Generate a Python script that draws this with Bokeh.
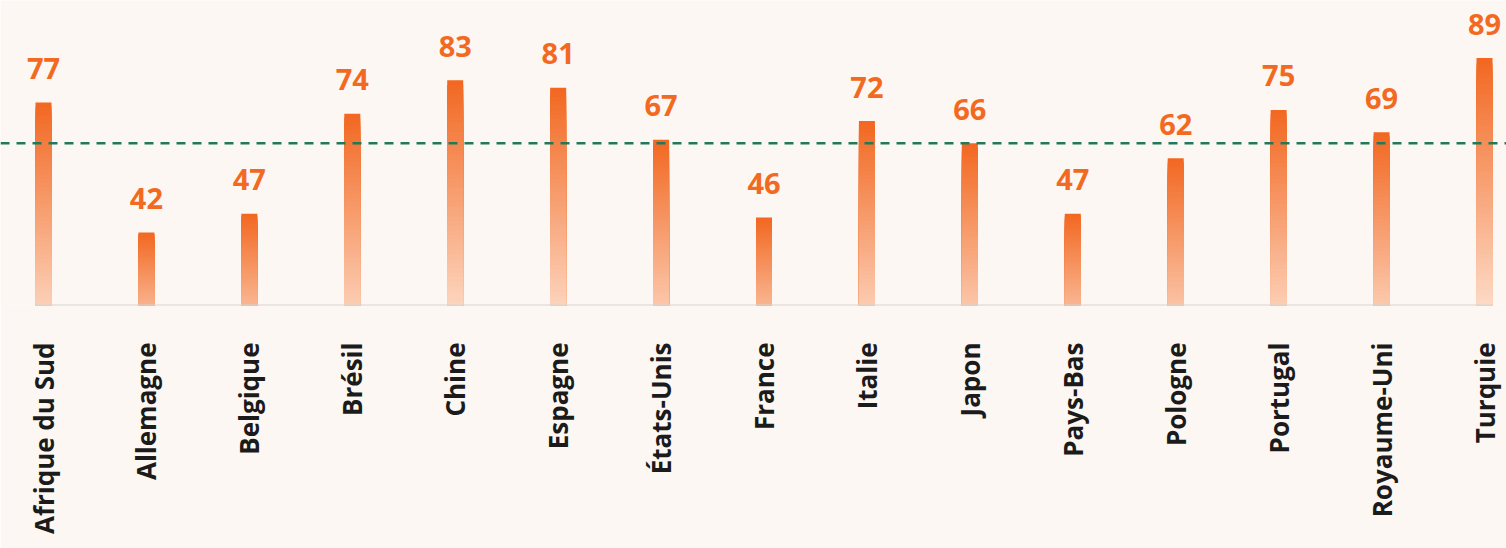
import math
from bokeh.plotting import figure
from bokeh.models import Range1d, FixedTicker, Span, ColumnDataSource
from bokeh.core.properties import value
from bokeh.embed import file_html
from bokeh.resources import INLINE

# ---- data ----
countries = ["Afrique du Sud", "Allemagne", "Belgique", "Brésil", "Chine", "Espagne",
             "États-Unis", "France", "Italie", "Japon", "Pays-Bas", "Pologne",
             "Portugal", "Royaume-Uni", "Turquie"]
values = [77, 42, 47, 74, 83, 81, 67, 46, 72, 66, 47, 62, 75, 69, 89]
average = 66
base_value = 22.3

# ---- style ----
BG = "#fdf7f3"
ORANGE = (242, 104, 34)
PALE = (253, 219, 199)
FONT = "Open Sans"
W, H = 1506, 548
BOTTOM = 243
px_per_x = (1484 - 43) / 14
px_per_y = 3.71
bar_w = 16 / px_per_x

x_start = -43 / px_per_x
x_end = x_start + W / px_per_x
y_end = base_value + (H - BOTTOM) / px_per_y

p = figure(width=W, height=H, output_backend="svg", toolbar_location=None,
           x_range=Range1d(x_start, x_end), y_range=Range1d(base_value, y_end),
           y_axis_location=None, min_border_left=0, min_border_right=0,
           min_border_top=0, min_border_bottom=BOTTOM)
p.background_fill_color = BG
p.border_fill_color = BG
p.outline_line_color = None
p.xgrid.visible = False
p.ygrid.visible = False

idx = list(range(len(countries)))
vmax = max(values)

# gradient bars: stacked overlapping rectangles, each from base up to a level
N = 48
xs, tops, cols = [], [], []
for i, v in zip(idx, values):
    h = v - base_value
    ratio = h / (vmax - base_value)
    for k in range(N):
        frac = k / N
        top = v - frac * h
        t = frac * (0.5 + 0.5 * ratio)
        r = round(ORANGE[0] + (PALE[0] - ORANGE[0]) * t)
        g = round(ORANGE[1] + (PALE[1] - ORANGE[1]) * t)
        b = round(ORANGE[2] + (PALE[2] - ORANGE[2]) * t)
        xs.append(i)
        tops.append(top)
        cols.append("#%02x%02x%02x" % (r, g, b))
bars = ColumnDataSource(dict(x=xs, top=tops, color=cols))
p.vbar(x="x", top="top", bottom=base_value, width=bar_w, fill_color="color",
       line_color=None, source=bars)

# baseline
p.segment(x0=[idx[0] - bar_w / 2], y0=[base_value], x1=[idx[-1] + bar_w / 2],
          y1=[base_value], line_color="#d9d3cf", line_width=2)

# average dashed line
p.add_layout(Span(location=average, dimension="width", line_color="#1f7a5c",
                  line_width=2.5, line_dash="9 7"))

# value labels
src = ColumnDataSource(dict(x=idx, y=values, t=[str(v) for v in values]))
p.text(x="x", y="y", text="t", source=src, y_offset=-34,
       text_align="center", text_baseline="middle",
       text_font=value(FONT), text_font_style="bold",
       text_font_size="29px", text_color="#f26a22")

# category axis
ax = p.xaxis[0]
ax.ticker = FixedTicker(ticks=idx)
ax.major_label_overrides = {i: c for i, c in zip(idx, countries)}
ax.major_label_orientation = math.pi / 2
ax.major_label_standoff = 31
ax.axis_line_color = None
ax.major_tick_line_color = None
ax.minor_tick_line_color = None
ax.major_label_text_font = FONT
ax.major_label_text_font_style = "bold"
ax.major_label_text_font_size = "26px"
ax.major_label_text_color = "#1b1b1b"

open("out.html", "w").write(file_html(p, INLINE))
